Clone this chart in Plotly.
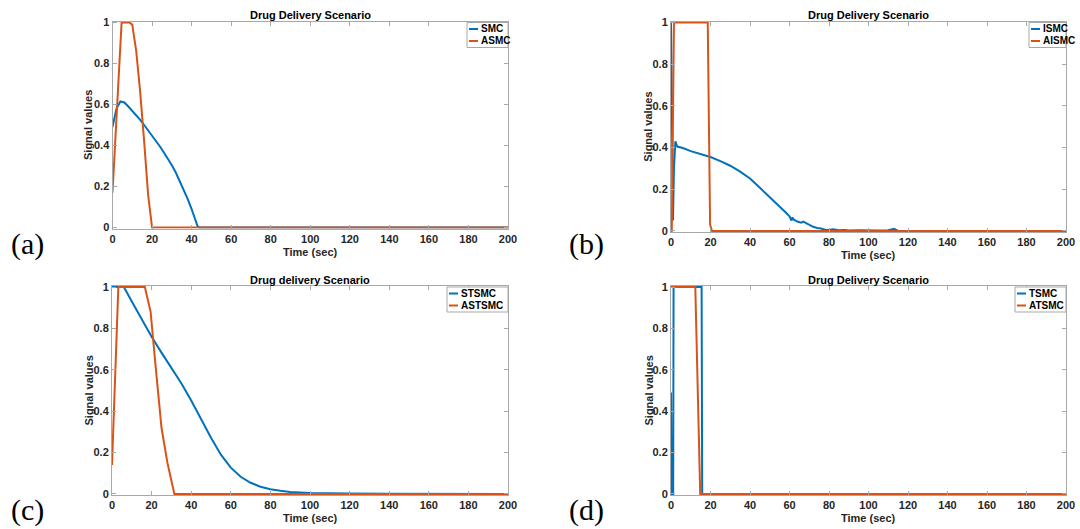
import plotly.graph_objects as go

W, H = 1080, 529
BLUE = "#0072BD"
ORANGE = "#D95319"

# ---------------- data ----------------
# (a)
t_smc = [0, 2, 4, 6, 8, 10, 12, 14, 16, 18, 20, 22, 24, 26, 28, 30, 32, 34, 36, 38, 40, 42, 43, 44, 200]
smc = [0.49, 0.58, 0.615, 0.61, 0.59, 0.57, 0.548, 0.525, 0.5, 0.475, 0.45, 0.423, 0.395, 0.366,
       0.336, 0.304, 0.268, 0.228, 0.185, 0.14, 0.09, 0.032, 0.007, 0, 0]
t_asmc = [0, 4.6, 8.5, 10, 12, 14, 16, 18, 20, 200]
asmc = [0.17, 1, 1, 0.99, 0.86, 0.66, 0.42, 0.16, 0, 0]

# (b)
t_ismc = [0, 0.5, 1.0, 1.5, 2.2, 3.2, 6, 10, 15, 20, 25, 30, 35, 40, 45, 50, 55, 58, 60, 61, 61.5,
          62, 64, 66, 67, 70, 72, 74, 76, 78, 80, 82, 85, 88, 90, 95, 100, 105, 110, 112, 113, 114, 115, 200]
ismc = [1, 0.6, 0.05, 0.3, 0.43, 0.405, 0.398, 0.383, 0.37, 0.355, 0.335, 0.313, 0.285, 0.252, 0.207,
        0.163, 0.115, 0.09, 0.07, 0.05, 0.065, 0.055, 0.045, 0.04, 0.045, 0.028, 0.02, 0.014, 0.012,
        0.006, 0.005, 0.008, 0.003, 0.005, 0.002, 0.003, 0.001, 0.002, 0.003, 0.008, 0.01, 0.005, 0, 0]
t_aismc = [0, 0.4, 1.5, 18.6, 19.8, 20.8, 200]
aismc = [0, 0, 1, 1, 0.03, 0, 0]

# (c)
t_stsmc = [0, 6, 10, 15, 20, 25, 30, 35, 40, 45, 50, 55, 60, 65, 70, 75, 80, 85, 90, 100, 110, 120, 140, 200]
stsmc = [1, 1, 0.93, 0.845, 0.76, 0.683, 0.61, 0.535, 0.452, 0.362, 0.272, 0.19, 0.127, 0.083, 0.054,
         0.035, 0.023, 0.015, 0.01, 0.005, 0.003, 0.002, 0.001, 0]
t_astsmc = [0, 3.2, 16.6, 19.5, 22, 25, 28, 31.5, 200]
astsmc = [0.14, 1, 1, 0.88, 0.62, 0.32, 0.15, 0, 0]

# (d)
t_tsmc = [0, 0.3, 1.1, 1.3, 15.5, 15.8, 200]
tsmc = [0.49, 0, 0, 1, 1, 0, 0]
t_atsmc = [0, 12.3, 14.8, 200]
atsmc = [1, 1, 0, 0]

x_ticks = list(range(0, 201, 20))
y_ticks = [0, 0.2, 0.4, 0.6, 0.8, 1]
y_ticklabels = ["0", "0.2", "0.4", "0.6", "0.8", "1"]

panels = [
    dict(key="a", title="Drug Delivery Scenario", names=("SMC", "ASMC"),
         series=((t_smc, smc), (t_asmc, asmc)), box=(112.5, 508, 22.5, 227.5),
         label_xy=(27, 244), ytitle_x=88, legend_left=467),
    dict(key="b", title="Drug Delivery Scenario", names=("ISMC", "AISMC"),
         series=((t_ismc, ismc), (t_aismc, aismc)), box=(671, 1066, 22.5, 231),
         label_xy=(586, 244), ytitle_x=648, legend_left=1029),
    dict(key="c", title="Drug delivery Scenario", names=("STSMC", "ASTSMC"),
         series=((t_stsmc, stsmc), (t_astsmc, astsmc)), box=(112, 508, 287, 494),
         label_xy=(27, 510), ytitle_x=88, legend_left=447),
    dict(key="d", title="Drug Delivery Scenario", names=("TSMC", "ATSMC"),
         series=((t_tsmc, tsmc), (t_atsmc, atsmc)), box=(671, 1066, 287, 494),
         label_xy=(586, 510), ytitle_x=648, legend_left=1015),
]


def px(x):
    return x / W


def py(y):
    return 1 - y / H


AXCOL = "#a8a8a8"
TXT = "#262626"
FONT = "Liberation Sans"

fig = go.Figure()
annotations = []
shapes = []

for i, p in enumerate(panels):
    n = "" if i == 0 else str(i + 1)
    x0, x1, y0, y1 = p["box"]
    for (t, v), name, col in zip(p["series"], p["names"], (BLUE, ORANGE)):
        fig.add_trace(go.Scatter(x=t, y=v, mode="lines", name=name, showlegend=False,
                                 line=dict(color=col, width=2),
                                 xaxis="x" + n, yaxis="y" + n))
    common = dict(showgrid=False, zeroline=False, showline=True, linecolor=AXCOL, linewidth=1,
                  mirror="ticks", ticks="inside", ticklen=4, tickcolor=AXCOL, tickwidth=1,
                  automargin=False,
                  tickfont=dict(family=FONT, size=11, color=TXT, weight="bold"))
    fig.update_layout(**{
        "xaxis" + n: dict(domain=[px(x0), px(x1)], range=[0, 200], tickvals=x_ticks,
                          anchor="y" + n, **common),
        "yaxis" + n: dict(domain=[py(y1 + 1), py(y0 - 1)], range=[-0.005, 1.005], tickvals=y_ticks,
                          ticktext=y_ticklabels, anchor="x" + n, **common),
    })
    cx = (x0 + x1) / 2
    # title
    annotations.append(dict(text="<b>" + p["title"] + "</b>", x=px(cx), y=py(y0 - 7), xref="paper",
                            yref="paper", xanchor="center", yanchor="middle", showarrow=False,
                            font=dict(family=FONT, size=11, color="black")))
    # x title
    annotations.append(dict(text="<b>Time (sec)</b>", x=px(cx), y=py(y1 + 24), xref="paper",
                            yref="paper", xanchor="center", yanchor="middle", showarrow=False,
                            font=dict(family=FONT, size=11, color=TXT)))
    # y title
    annotations.append(dict(text="<b>Signal values</b>", x=px(p["ytitle_x"]), y=py((y0 + y1) / 2),
                            xref="paper", yref="paper", xanchor="center", yanchor="middle",
                            textangle=-90, showarrow=False,
                            font=dict(family=FONT, size=11, color=TXT)))
    # panel label
    lx, ly = p["label_xy"]
    annotations.append(dict(text="(" + p["key"] + ")", x=px(lx), y=py(ly), xref="paper", yref="paper",
                            xanchor="center", yanchor="middle", showarrow=False,
                            font=dict(family="Liberation Serif", size=30, color="black")))
    # legend (MATLAB-style compact box)
    L = p["legend_left"]
    shapes.append(dict(type="rect", xref="paper", yref="paper", x0=px(L), x1=px(x1),
                       y0=py(y0 + 25), y1=py(y0), line=dict(color=AXCOL, width=1),
                       fillcolor="white", layer="above"))
    for k, (name, col) in enumerate(zip(p["names"], (BLUE, ORANGE))):
        yy = y0 + 6.5 + 12 * k
        shapes.append(dict(type="line", xref="paper", yref="paper", x0=px(L + 2), x1=px(L + 11),
                           y0=py(yy), y1=py(yy), line=dict(color=col, width=2), layer="above"))
        annotations.append(dict(text="<b>" + name + "</b>", x=px(L + 11.5), y=py(yy), xref="paper",
                                yref="paper", xanchor="left", yanchor="middle", showarrow=False,
                                font=dict(family=FONT, size=10, color="black")))

fig.update_layout(width=W, height=H, margin=dict(l=0, r=0, t=0, b=0, autoexpand=False),
                  plot_bgcolor="white", paper_bgcolor="white",
                  annotations=annotations, shapes=shapes, showlegend=False)

fig.write_html("out.html")
